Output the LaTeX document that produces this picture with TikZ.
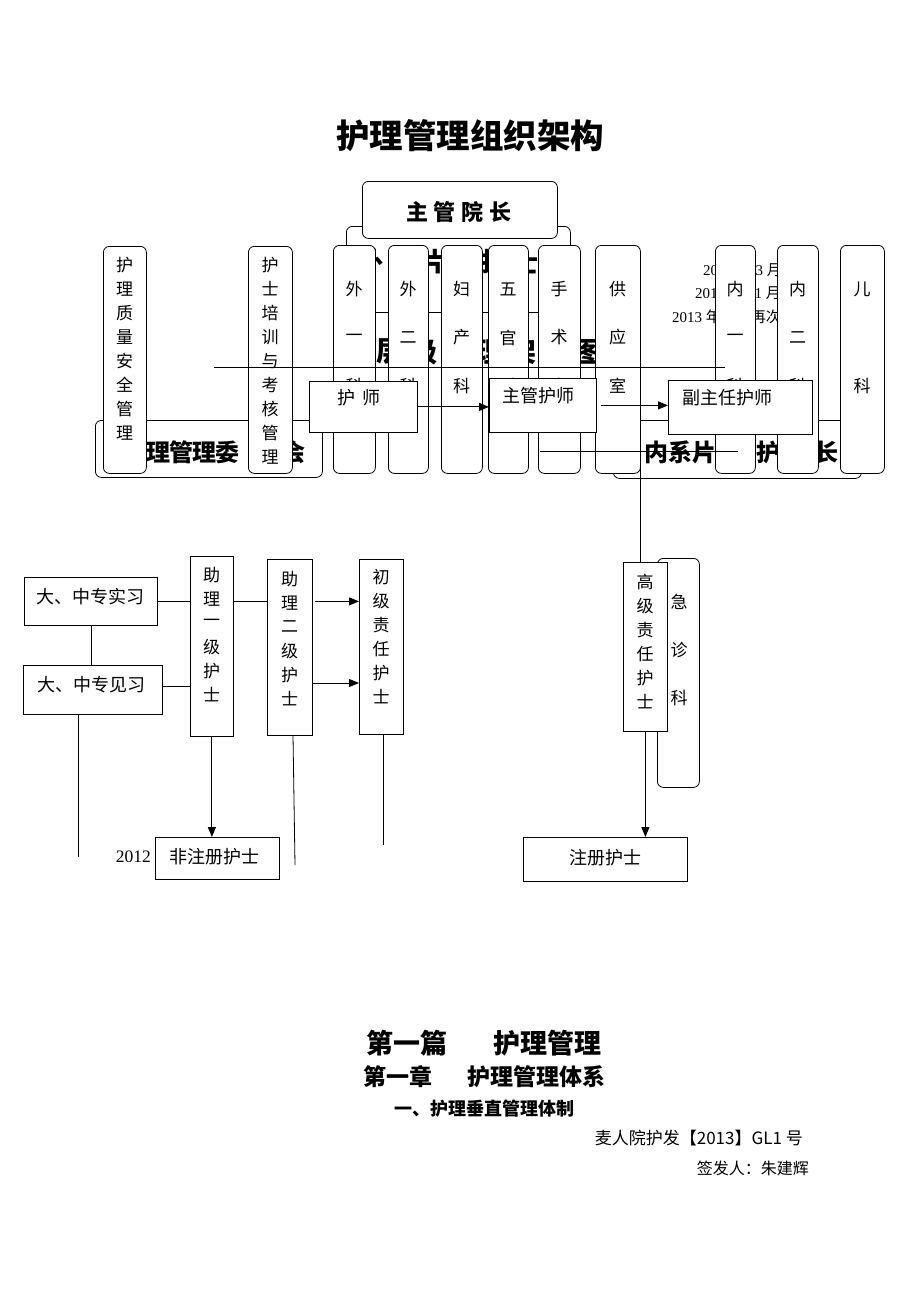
\documentclass[tikz,border=0pt]{standalone}
\usepackage{fontspec}
\setmainfont{Liberation Serif}
\newfontfamily\cjk{Noto Sans CJK SC}
\usetikzlibrary{arrows.meta}
\tikzset{
  lw/.style={line width=0.8pt},
  rbox/.style={draw,line width=0.8pt,rounded corners=6pt,fill=white,inner sep=0pt},
  sbox/.style={draw,line width=0.8pt,fill=white,inner sep=0pt},
  arr/.style={line width=1pt,-{Triangle[length=10pt,width=8pt]}},
  ch/.style={inner sep=0pt,font=\cjk\fontsize{17}{17}\selectfont},
  bt/.style={inner sep=0pt,font=\cjk\fontsize{18}{18}\selectfont},
  hb/.style={inner sep=0pt,font=\cjk\bfseries\fontsize{24}{24}\selectfont},
  dt/.style={inner sep=0pt,anchor=west,font=\fontsize{15}{15}\selectfont},
}
\newcommand\mybox[6]{%
  \pgfmathsetmacro\bw{#5-#3}\pgfmathsetmacro\bh{#6-#4}%
  \node[#1,minimum width=\bw pt,minimum height=\bh pt,anchor=north west] (#2) at (#3,#4) {};}
\newcommand\vchars[5]{%
  \foreach \c [count=\i from 0] in {#5} {\node[ch] (#1-\i) at (#2,#3+\i*#4) {\c};}}
\begin{document}
\begin{tikzpicture}[x=1pt,y=-1pt]
\fill[white] (0,0) rectangle (920,1302);
\useasboundingbox (0,0) rectangle (920,1302);

\node[inner sep=0pt,font=\cjk\bfseries\fontsize{33.5}{33.5}\selectfont] (title) at (470,136) {护理管理组织架构};

% hidden background texts
\node[dt] (d1) at (703,270) {2012 {\cjk 年} 3 {\cjk 月制定}};
\node[dt] (d2) at (695,293) {2012 {\cjk 年} 11 {\cjk 月修订}};
\node[dt] (d3) at (672,317) {2013 {\cjk 年} 5 {\cjk 月再次修订}};

\mybox{rbox}{wkbox}{346}{226}{570}{312}
\foreach \c [count=\i from 0] in {外,科,片,区,护,士,长}
  {\node[inner sep=0pt,font=\cjk\bfseries\fontsize{26}{26}\selectfont] (wk-\i) at (370+\i*31,262) {\c};}
\foreach \c [count=\i from 0] in {层,级,管,理,架,构,图}
  {\node[inner sep=0pt,font=\cjk\bfseries\fontsize{28}{28}\selectfont] (cj-\i) at (390+\i*33,352) {\c};}

\mybox{rbox}{wyh}{95}{420}{322}{477}
\foreach \c/\x [count=\i] in {护/135,理/158,管/181,理/204,委/227,员/260,会/293}
  {\node[hb] (wy-\i) at (\x,452) {\c};}
\mybox{rbox}{nx}{613}{420}{861}{478}
\foreach \c/\x [count=\i] in {内/656,系/680,片/704,区/728,护/768,士/797,长/826}
  {\node[hb] (nx-\i) at (\x,452) {\c};}

% top box
\mybox{rbox}{yz}{362}{181}{557}{238}
\node[inner sep=0pt,font=\cjk\bfseries\fontsize{22}{22}\selectfont] (yzt) at (459,212) {主\hspace{6pt}管\hspace{6pt}院\hspace{6pt}长};

% columns
\mybox{rbox}{c1}{103}{246}{146}{473}  \vchars{c1}{124.5}{265}{24}{护,理,质,量,安,全,管,理}
\mybox{rbox}{c2}{248}{246}{292}{473}  \vchars{c2}{270}{265}{24}{护,士,培,训,与,考,核,管,理}
\mybox{rbox}{c3}{333}{245}{375}{473}  \vchars{c3}{354}{289}{48.5}{外,一,科}
\mybox{rbox}{c4}{388}{245}{428}{473}  \vchars{c4}{408}{289}{48.5}{外,二,科}
\mybox{rbox}{c5}{441}{245}{482}{473}  \vchars{c5}{461.5}{289}{48.5}{妇,产,科}
\mybox{rbox}{c6}{488}{245}{528}{473}  \vchars{c6}{508}{289}{48.5}{五,官,科}
\mybox{rbox}{c7}{538}{245}{580}{473}  \vchars{c7}{559}{289}{48.5}{手,术,室}
\mybox{rbox}{c8}{595}{245}{640}{473}  \vchars{c8}{617.5}{289}{48.5}{供,应,室}
\mybox{rbox}{c9}{715}{245}{755}{473}  \vchars{c9}{735}{289}{48.5}{内,一,科}
\mybox{rbox}{c10}{777}{245}{818}{473} \vchars{c10}{797.5}{289}{48.5}{内,二,科}
\mybox{rbox}{c11}{840}{245}{884}{473} \vchars{c11}{862}{289}{97}{儿,科}

% lines across
\coordinate (l1a) at (214,367); \coordinate (l1b) at (725,367);
\draw[lw] (l1a) -- (l1b);
\coordinate (l2a) at (540,451); \coordinate (l2b) at (738,451);
\draw[lw] (l2a) -- (l2b);

% title boxes
\mybox{sbox}{hs}{309}{381}{417}{432}
\node[bt] (hst) at (359,398) {护\hspace{8pt}师};
\mybox{sbox}{zg}{489}{378}{596}{432}
\node[bt] (zgt) at (538,396) {主管护师};
\mybox{sbox}{fz}{668}{380}{812}{434}
\node[bt] (fzt) at (727,398) {副主任护师};
\draw[arr] (hs.east) -- (hs.east -| zg.west);
\draw[arr] ([xshift=4pt]zg.east) -- (zg.east -| fz.west);

% lower left
\mybox{sbox}{sx}{24}{577}{157}{625}
\node[bt] (sxt) at (90.5,597) {大、中专实习};
\mybox{sbox}{jx}{23}{665}{162}{714}
\node[bt] (jxt) at (91,685) {大、中专见习};
\mybox{sbox}{zl1}{190}{556}{233}{736} \vchars{zl1}{211.5}{575}{24}{助,理,一,级,护,士}
\mybox{sbox}{zl2}{267}{559}{312}{735} \vchars{zl2}{289.5}{579}{24}{助,理,二,级,护,士}
\mybox{sbox}{cj}{359}{559}{403}{734}  \vchars{cj}{381}{577}{24}{初,级,责,任,护,士}
\mybox{sbox}{fzc}{155}{837}{279}{879}
\node[bt] (fzct) at (214.5,857) {非注册护士};
\node[inner sep=0pt,anchor=east,font=\fontsize{17.5}{17.5}\selectfont] (y2012) at (151,857) {2012};

\draw[lw] (sx.south) -- (sx.south |- jx.north);
\draw[lw] (sx.east) -- (sx.east -| zl1.west);
\coordinate (jxr) at (162,686);
\draw[lw] (jxr) -- (jxr -| zl1.west);
\coordinate (jxl) at (78,857);
\draw[lw] (jxl |- jx.south) -- (jxl);
\draw[lw] (zl1.east |- sx.east) -- (sx.east -| zl2.west);
\draw[arr] ([xshift=2pt]zl2.east |- sx.east) -- (sx.east -| cj.west);
\coordinate (a2) at (312,683);
\draw[arr] (a2) -- (a2 -| cj.west);
\draw[arr] (zl1.south) -- (zl1.south |- fzc.north);
\coordinate (z2s) at (293,735); \coordinate (z2e) at (295,865);
\draw[lw] (z2s) -- (z2e);
\coordinate (cje) at (383,845);
\draw[lw] (cje |- cj.south) -- (cje);

% lower right
\mybox{rbox}{jz}{657}{558}{699}{787} \vchars{jz}{679}{602}{48}{急,诊,科}
\mybox{sbox}{gj}{623}{562}{667}{731} \vchars{gj}{645}{582}{24}{高,级,责,任,护,士}
\mybox{sbox}{zc}{523}{837}{687}{881}
\node[bt] (zct) at (605,858) {注册护士};
\coordinate (v1) at (640,420);
\draw[lw] (v1) -- (v1 |- gj.north);
\draw[arr] (gj.south) -- (gj.south |- zc.north);

% bottom texts
\node[inner sep=0pt,font=\cjk\bfseries\fontsize{27}{27}\selectfont] (p1a) at (407,1043) {第一篇};
\node[inner sep=0pt,font=\cjk\bfseries\fontsize{27}{27}\selectfont] (p1b) at (547,1043) {护理管理};
\node[inner sep=0pt,font=\cjk\bfseries\fontsize{23}{23}\selectfont] (p2a) at (397.5,1077) {第一章};
\node[inner sep=0pt,font=\cjk\bfseries\fontsize{23}{23}\selectfont] (p2b) at (536,1077) {护理管理体系};
\node[inner sep=0pt,font=\cjk\bfseries\fontsize{18}{18}\selectfont] (p3) at (484.5,1109) {一、护理垂直管理体制};
\node[inner sep=0pt,anchor=east,font=\cjk\fontsize{17}{17}\selectfont] (p4) at (803,1138) {麦人院护发【2013】GL1 号};
\node[inner sep=0pt,anchor=east,font=\cjk\fontsize{16}{16}\selectfont] (p5) at (809,1168) {签发人：朱建辉};
\end{tikzpicture}
\end{document}
